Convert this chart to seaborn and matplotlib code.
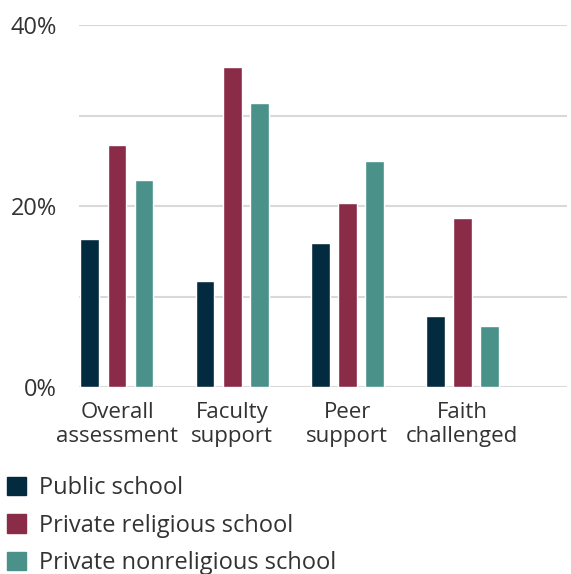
import matplotlib
matplotlib.use("Agg")
import matplotlib.pyplot as plt
import matplotlib.patches as mpatches
import seaborn as sns
import pandas as pd

categories = ["Overall\nassessment", "Faculty\nsupport", "Peer\nsupport", "Faith\nchallenged"]
series = ["Public school", "Private religious school", "Private nonreligious school"]
public_vals = [16.4, 11.7, 15.9, 7.8]
religious_vals = [26.8, 35.4, 20.4, 18.7]
nonreligious_vals = [22.9, 31.4, 25.0, 6.7]
colors = ["#032b40", "#8a2b48", "#4a9189"]
ytick_vals = [0, 10, 20, 30, 40]
ytick_labels = ["0%", "", "20%", "", "40%"]

rows = []
for s, vals in zip(series, [public_vals, religious_vals, nonreligious_vals]):
    for c, v in zip(categories, vals):
        rows.append({"category": c, "school": s, "value": v})
df = pd.DataFrame(rows)

sns.set_style("white")
plt.rcParams["font.family"] = ["Open Sans", "DejaVu Sans"]
text_color = "#333333"

fig = plt.figure(figsize=(5.71, 5.74), dpi=100)
ax = fig.add_axes([79/571, 1-387/574, (567-79)/571, (387-25.3)/574])

sns.barplot(data=df, x="category", y="value", hue="school", order=categories,
            hue_order=series, palette=colors, width=0.705, gap=0.30,
            ax=ax, legend=False, saturation=1)

ax.set_ylim(0, 40)
ax.set_xlim(-0.33, 3.91)
ax.set_yticks(ytick_vals)
ax.set_yticklabels(ytick_labels, fontsize=17, color=text_color)
ax.yaxis.grid(True, color="#d9d9d9", linewidth=1.5)
ax.set_axisbelow(True)
for sp in ax.spines.values():
    sp.set_visible(False)
ax.tick_params(axis="y", length=0, pad=16)
ax.tick_params(axis="x", length=0, pad=11)
for lbl in ax.get_xticklabels():
    lbl.set_fontsize(16)
    lbl.set_color(text_color)
    lbl.set_linespacing(1.2)
ax.set_xlabel("")
ax.set_ylabel("")

handles = [mpatches.Patch(color=c, label=s) for c, s in zip(colors, series)]
leg = fig.legend(handles=handles, loc="upper left", bbox_to_anchor=(7/571, 1-476/574),
                 frameon=False, fontsize=17, handlelength=0.8, handleheight=0.8,
                 handletextpad=0.55, labelspacing=0.58, borderpad=0, borderaxespad=0)
for t in leg.get_texts():
    t.set_color(text_color)

fig.savefig("out.png", dpi=100)
